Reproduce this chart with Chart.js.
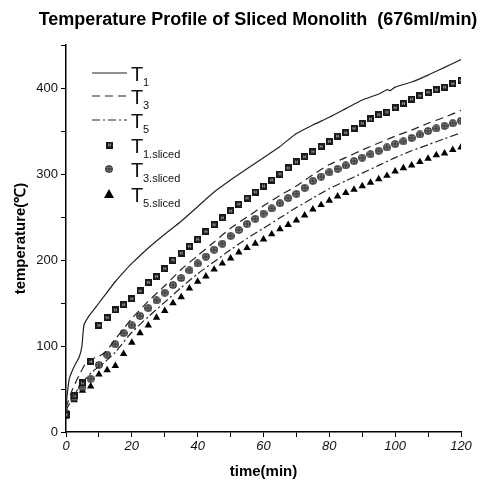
<!DOCTYPE html>
<html lang="en">
<head>
    <meta charset="UTF-8">
    <title>Temperature Profile of Sliced Monolith</title>
    <script src="https://cdn.jsdelivr.net/npm/chart.js@4.4.1/dist/chart.umd.min.js"></script>
    <style>
        body {
            margin: 0;
            background: #fff;
        }
        #wrap {
            width: 485px;
            height: 481px;
        }
    </style>
</head>
<body>
    <div id="wrap">
        <canvas id="graphCanvas" width="485" height="481"></canvas>
    </div>
    <script>
        // thermocouple lines (time in min, temperature in C)
        const t1Time = [0, 0.5, 1, 2, 3, 4, 4.8, 5.5, 7, 8, 10, 12, 15, 18, 20, 25, 30, 35, 40, 45, 50, 55, 60, 65, 70, 75, 80, 85, 90, 95, 97.5, 98.5, 100, 105, 110, 115, 120];
        const t1Temp = [30, 48, 62, 72, 80, 87, 99, 125, 135, 140, 150, 160, 175, 188, 196, 214, 230, 245, 262, 279, 293, 306, 319, 332, 347, 357, 366, 376, 386, 393, 398, 397, 401, 407, 415, 424, 433];

        const t3Time = [0, 2, 4, 6, 8, 10, 12, 15, 20, 25, 30, 35, 40, 45, 50, 55, 60, 65, 70, 75, 80, 85, 90, 95, 100, 105, 110, 115, 120];
        const t3Temp = [28, 50, 66, 80, 85, 88, 93, 108, 132, 152, 170, 189, 205, 221, 237, 250, 263, 275, 286, 299, 311, 319, 328, 336, 344, 351, 359, 366, 374];

        const t5Time = [0, 2, 4, 6, 8, 10, 12, 15, 20, 25, 30, 35, 40, 45, 50, 55, 60, 65, 70, 75, 80, 85, 90, 95, 100, 105, 110, 115, 120];
        const t5Temp = [25, 40, 52, 62, 70, 76, 82, 93, 116, 134, 151, 168, 184, 198, 212, 225, 237, 249, 261, 272, 283, 292, 301, 310, 319, 327, 334, 341, 348];

        // sliced monolith measurements
        const slicedTime = [0, 2.5, 5, 7.5, 10, 12.5, 15, 17.5, 20, 22.5, 25, 27.5, 30, 32.5, 35, 37.5, 40, 42.5, 45, 47.5, 50, 52.5, 55, 57.5, 60, 62.5, 65, 67.5, 70, 72.5, 75, 77.5, 80, 82.5, 85, 87.5, 90, 92.5, 95, 97.5, 100, 102.5, 105, 107.5, 110, 112.5, 115, 117.5, 120];
        const t1Sliced = [20, 42, 57, 82, 124, 133, 142, 148, 155, 164, 174, 181, 190, 200, 208, 216, 224, 233, 241, 249, 257, 265, 272, 279, 286, 293, 300, 307, 314, 320, 326, 332, 338, 344, 348, 353, 359, 364, 369, 372, 377, 382, 387, 391, 395, 398, 401, 405, 409];
        const t3Sliced = [22, 40, 52, 62, 78, 90, 102, 115, 124, 135, 144, 153, 162, 171, 179, 188, 196, 204, 212, 219, 228, 235, 242, 248, 254, 260, 266, 272, 277, 284, 292, 297, 302, 306, 310, 315, 319, 323, 327, 331, 335, 338, 342, 346, 350, 353, 356, 359, 362];
        const t5Sliced = [18, 37, 48, 53, 67, 72, 77, 91, 104, 115, 124, 133, 141, 150, 157, 167, 175, 181, 189, 196, 202, 209, 214, 219, 224, 230, 236, 241, 246, 252, 259, 264, 269, 274, 278, 282, 286, 290, 294, 298, 303, 307, 310, 314, 318, 322, 324, 328, 331];

        const legendMain = ['T', 'T', 'T', 'T', 'T', 'T'];
        const legendSub = ['1', '3', '5', '1.sliced', '3.sliced', '5.sliced'];
        const chartTitle = 'Temperature Profile of Sliced Monolith  (676ml/min)';

        const FONT = '"Liberation Sans", Arial, sans-serif';

        function pairs(xs, ys) {
            return xs.map((x, i) => ({ x: x, y: ys[i] }));
        }

        // marker images
        function squareMark() {
            const c = document.createElement('canvas');
            c.width = 7; c.height = 7;
            const g = c.getContext('2d');
            g.fillStyle = '#1a1a1a';
            g.fillRect(0, 0, 7, 7);
            g.fillStyle = '#8a8a8a';
            g.fillRect(2, 2, 1, 3);
            g.fillRect(4, 2, 1, 3);
            g.fillRect(2, 3, 3, 1);
            return c;
        }

        function ringMark() {
            const c = document.createElement('canvas');
            c.width = 8; c.height = 8;
            const g = c.getContext('2d');
            g.beginPath();
            g.arc(4, 4, 3.3, 0, Math.PI * 2);
            g.fillStyle = '#8a8a8a';
            g.fill();
            g.lineWidth = 1.1;
            g.strokeStyle = '#2a2a2a';
            g.stroke();
            g.beginPath();
            g.moveTo(4, 1); g.lineTo(4, 7);
            g.moveTo(1, 4); g.lineTo(7, 4);
            g.lineWidth = 1;
            g.stroke();
            return c;
        }

        const sqImg = squareMark();
        const ringImg = ringMark();

        const lineStyles = [[], [8, 5], [8, 3, 2, 3]];

        // title drawn by hand so it can sit a bit right of the canvas centre
        const titlePlugin = {
            id: 'wideTitle',
            afterDraw(chart) {
                const ctx = chart.ctx;
                ctx.save();
                ctx.font = 'bold 18px ' + FONT;
                ctx.fillStyle = '#000';
                ctx.textAlign = 'center';
                ctx.textBaseline = 'middle';
                ctx.fillText(chartTitle, 258, 20);
                ctx.restore();
            }
        };

        // legend drawn by hand so the subscripts stay real text
        const legendPlugin = {
            id: 'subLegend',
            afterDraw(chart) {
                const ctx = chart.ctx;
                const rows = [73, 96, 120, 145, 169, 194];
                ctx.save();
                rows.forEach((y, i) => {
                    if (i < 3) {
                        ctx.beginPath();
                        ctx.setLineDash(lineStyles[i]);
                        ctx.strokeStyle = '#222';
                        ctx.lineWidth = 1.2;
                        ctx.moveTo(92, y);
                        ctx.lineTo(127, y);
                        ctx.stroke();
                        ctx.setLineDash([]);
                    } else if (i === 3) {
                        ctx.drawImage(sqImg, 106, y - 3.5);
                    } else if (i === 4) {
                        ctx.drawImage(ringImg, 105, y - 4);
                    } else {
                        ctx.beginPath();
                        ctx.moveTo(109, y - 5);
                        ctx.lineTo(114, y + 4);
                        ctx.lineTo(104, y + 4);
                        ctx.closePath();
                        ctx.fillStyle = '#000';
                        ctx.fill();
                    }
                    ctx.fillStyle = '#111';
                    ctx.textBaseline = 'alphabetic';
                    ctx.textAlign = 'left';
                    ctx.font = '20px ' + FONT;
                    ctx.fillText(legendMain[i], 131, y + 8);
                    ctx.font = '11px ' + FONT;
                    ctx.fillText(legendSub[i], 143, y + 13);
                });
                ctx.restore();
            }
        };

        const ctx = document.getElementById('graphCanvas').getContext('2d');
        const chart = new Chart(ctx, {
            type: 'scatter',
            data: {
                datasets: [
                    {
                        label: 'T1',
                        type: 'line',
                        data: pairs(t1Time, t1Temp),
                        borderColor: '#222',
                        borderWidth: 1.2,
                        pointRadius: 0,
                        tension: 0.2,
                        fill: false
                    },
                    {
                        label: 'T3',
                        type: 'line',
                        data: pairs(t3Time, t3Temp),
                        borderColor: '#222',
                        borderWidth: 1.2,
                        borderDash: lineStyles[1],
                        pointRadius: 0,
                        tension: 0.2,
                        fill: false
                    },
                    {
                        label: 'T5',
                        type: 'line',
                        data: pairs(t5Time, t5Temp),
                        borderColor: '#222',
                        borderWidth: 1.2,
                        borderDash: lineStyles[2],
                        pointRadius: 0,
                        tension: 0.2,
                        fill: false
                    },
                    {
                        label: 'T1,sliced',
                        data: pairs(slicedTime, t1Sliced),
                        pointStyle: sqImg,
                        pointRadius: 4
                    },
                    {
                        label: 'T3,sliced',
                        data: pairs(slicedTime, t3Sliced),
                        pointStyle: ringImg,
                        pointRadius: 4
                    },
                    {
                        label: 'T5,sliced',
                        data: pairs(slicedTime, t5Sliced),
                        pointStyle: 'triangle',
                        pointRadius: 4.3,
                        backgroundColor: '#000',
                        borderColor: '#000',
                        borderWidth: 0
                    }
                ]
            },
            options: {
                responsive: false,
                animation: false,
                layout: {
                    padding: { left: 12, right: 24, top: 45, bottom: 0 }
                },
                plugins: {
                    legend: { display: false },
                    tooltip: { enabled: false },
                    title: { display: false }
                },
                scales: {
                    x: {
                        type: 'linear',
                        min: 0,
                        max: 120,
                        afterFit: function (scale) { scale.height = 49; },
                        ticks: {
                            stepSize: 10,
                            color: '#111',
                            padding: 2,
                            maxRotation: 0,
                            font: { family: FONT, size: 13, style: 'italic' },
                            callback: v => (v % 20 === 0 ? v : '')
                        },
                        grid: { drawOnChartArea: false, drawTicks: true, tickLength: 5, color: '#000' },
                        border: { display: true, color: '#000', width: 1.5 },
                        title: {
                            display: true,
                            text: 'time(min)',
                            color: '#000',
                            padding: { top: 0, bottom: 0 },
                            font: { family: FONT, size: 15, weight: 'bold' }
                        }
                    },
                    y: {
                        type: 'linear',
                        min: 0,
                        max: 450,
                        afterFit: function (scale) { scale.width = 54; },
                        ticks: {
                            stepSize: 50,
                            color: '#111',
                            padding: 3,
                            font: { family: FONT, size: 13 },
                            callback: v => (v % 100 === 0 ? v : '')
                        },
                        grid: { drawOnChartArea: false, drawTicks: true, tickLength: 5, color: '#000' },
                        border: { display: true, color: '#000', width: 1.5 },
                        title: {
                            display: true,
                            text: 'temperature(\u2103)',
                            color: '#000',
                            padding: { top: 0, bottom: 0 },
                            font: { family: FONT, size: 15, weight: 'bold' }
                        }
                    }
                }
            },
            plugins: [titlePlugin, legendPlugin]
        });
    </script>
</body>
</html>
